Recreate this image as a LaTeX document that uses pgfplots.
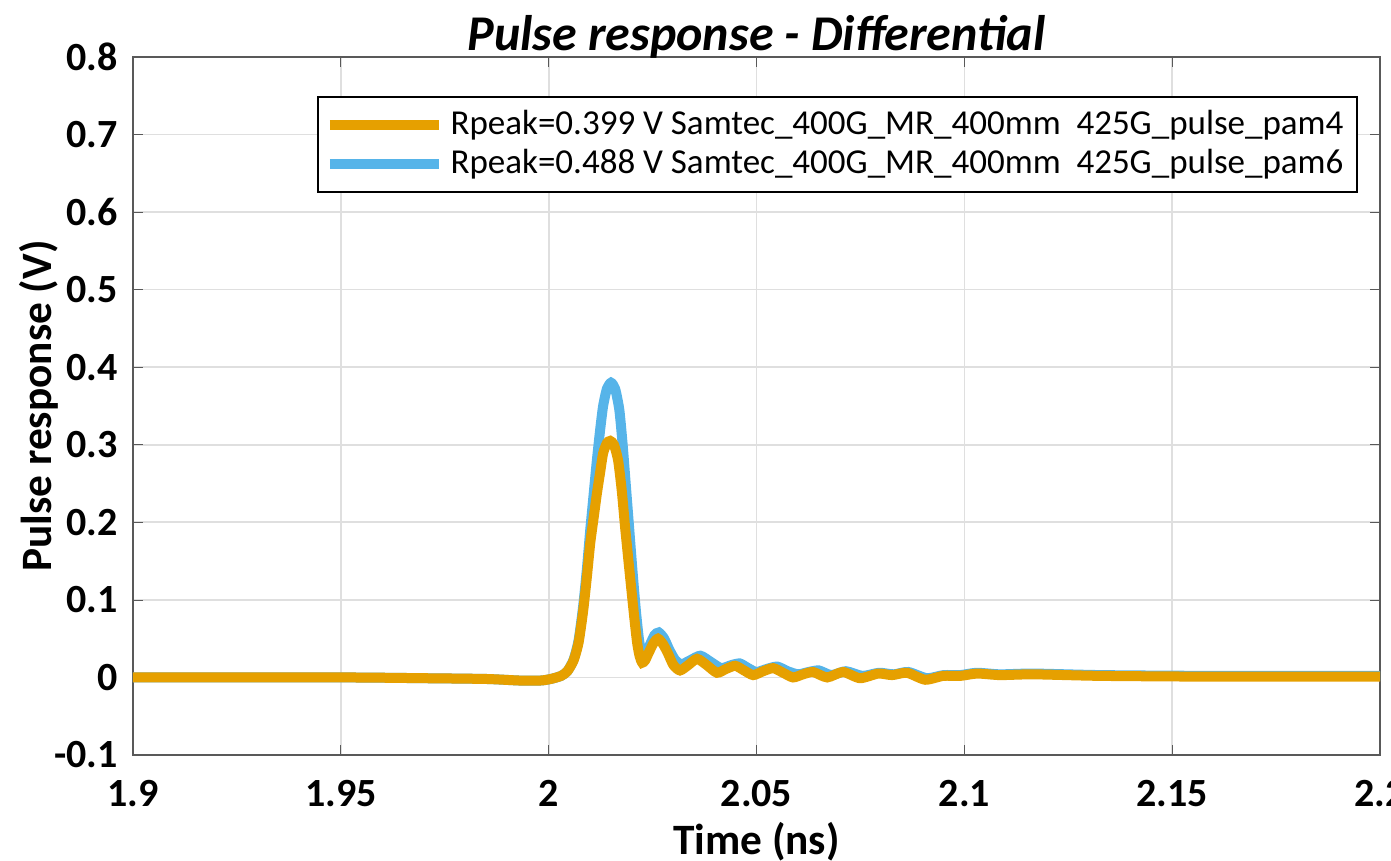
\documentclass[border=0pt]{standalone}
\usepackage{fontspec}
\setmainfont{Carlito}
\usepackage{pgfplots}
\pgfplotsset{compat=1.18}
\definecolor{morange}{RGB}{230,160,0}
\definecolor{mblue}{RGB}{86,180,233}
\begin{document}
\begin{tikzpicture}
\begin{axis}[
  name=ax,
  scale only axis,
  width=374.1pt, height=209.4pt,
  xmin=1.9, xmax=2.2, ymin=-0.1, ymax=0.8,
  xtick={1.9,1.95,2,2.05,2.1,2.15,2.2},
  xticklabels={1.9,1.95,2,2.05,2.1,2.15,2.2},
  ytick={-0.1,0,0.1,0.2,0.3,0.4,0.5,0.6,0.7,0.8},
  yticklabels={-0.1,0,0.1,0.2,0.3,0.4,0.5,0.6,0.7,0.8},
  tick align=inside,
  major tick length=3pt,
  grid=major,
  grid style={gray!25, line width=0.5pt},
  axis line style={gray!70!black, line width=0.6pt},
  tick style={gray!70!black},
  tick label style={font=\bfseries\fontsize{12}{12}\selectfont, black},
  xticklabel style={yshift=-4pt},
  yticklabel style={xshift=-1pt},
  xlabel={\bfseries Time (ns)},
  ylabel={\bfseries Pulse response (V)},
  label style={font=\bfseries\fontsize{13}{13}\selectfont},
  xlabel style={yshift=2pt},
  ylabel style={yshift=-8pt},
  title={\bfseries\itshape Pulse response - Differential},
  title style={font=\bfseries\itshape\fontsize{15}{15}\selectfont, yshift=-10pt},
  legend style={at={(0.982,0.944)}, anchor=north east, font=\fontsize{10.5}{12}\selectfont,
     draw=black, line width=0.5pt, inner sep=2pt, row sep=-1pt},
  legend cell align=left,
  legend image code/.code={\draw[#1, line width=3pt] (0cm,0cm) -- (1.15cm,0cm);},
  reverse legend,
]
\addplot[mblue, line width=3pt, smooth, tension=0.4] coordinates {
(1.900,0) (1.950,0) (1.970,-0.001) (1.985,-0.002) (1.993,-0.004) (1.998,-0.004)
(2.0005,-0.002) (2.003,0.002) (2.0045,0.008) (2.006,0.023) (2.0072,0.048) (2.0083,0.092)
(2.0092,0.14) (2.010,0.19) (2.0108,0.235) (2.0116,0.28) (2.0124,0.32) (2.0131,0.35)
(2.0140,0.372) (2.0150,0.380) (2.0160,0.372) (2.0170,0.345) (2.0178,0.30) (2.0186,0.245)
(2.0194,0.19) (2.0202,0.135) (2.0210,0.085) (2.0217,0.05) (2.0223,0.032) (2.0230,0.030)
(2.024,0.038) (2.0254,0.054) (2.0265,0.058) (2.0278,0.050) (2.029,0.036) (2.0305,0.022)
(2.032,0.017) (2.034,0.022) (2.0365,0.028) (2.039,0.020) (2.0415,0.012) (2.044,0.016)
(2.046,0.018) (2.048,0.012) (2.050,0.007) (2.0525,0.011) (2.055,0.014) (2.0575,0.008)
(2.060,0.004) (2.0625,0.007) (2.065,0.009) (2.068,0.003) (2.0715,0.008) (2.0755,0.002)
(2.0795,0.006) (2.083,0.004) (2.0865,0.007) (2.091,-0.001) (2.095,0.003) (2.099,0.003)
(2.103,0.006) (2.1086,0.004) (2.1166,0.005) (2.133,0.003) (2.16,0.002) (2.2,0.002)
};
\addlegendentry{Rpeak=0.488 V Samtec\_400G\_MR\_400mm\ \ 425G\_pulse\_pam6}
\addplot[morange, line width=3pt, smooth, tension=0.4] coordinates {
(1.900,0) (1.950,0) (1.970,-0.001) (1.985,-0.002) (1.993,-0.004) (1.998,-0.004)
(2.0005,-0.002) (2.003,0.002) (2.0045,0.008) (2.006,0.022) (2.0072,0.045) (2.0083,0.086)
(2.0092,0.13) (2.010,0.173) (2.0108,0.205) (2.0116,0.237) (2.0124,0.265) (2.0131,0.289)
(2.0140,0.302) (2.0148,0.305) (2.0157,0.300) (2.0167,0.28) (2.0176,0.24) (2.0184,0.193)
(2.0192,0.15) (2.020,0.108) (2.0207,0.072) (2.0213,0.044) (2.0219,0.027) (2.0225,0.019)
(2.0232,0.022) (2.024,0.031) (2.0252,0.044) (2.0263,0.050) (2.0275,0.043) (2.0287,0.031)
(2.030,0.016) (2.0316,0.009) (2.0336,0.016) (2.0357,0.024) (2.038,0.016) (2.0405,0.006)
(2.0427,0.011) (2.0449,0.015) (2.047,0.009) (2.0492,0.003) (2.0516,0.008) (2.054,0.012)
(2.0564,0.006) (2.0588,0.0) (2.0612,0.004) (2.0636,0.007) (2.067,0.0) (2.0708,0.007)
(2.0749,-0.001) (2.0793,0.005) (2.0826,0.003) (2.0862,0.006) (2.0906,-0.003) (2.0949,0.002)
(2.099,0.002) (2.1031,0.005) (2.1086,0.003) (2.1166,0.004) (2.1327,0.002) (2.16,0.001) (2.2,0.001)
};
\addlegendentry{Rpeak=0.399 V Samtec\_400G\_MR\_400mm\ \ 425G\_pulse\_pam4}
\end{axis}
\pgfresetboundingbox
\path[use as bounding box] ([shift={(-39.9pt,-31.8pt)}]ax.south west) rectangle ([shift={(3.3pt,17.1pt)}]ax.north east);
\end{tikzpicture}
\end{document}
